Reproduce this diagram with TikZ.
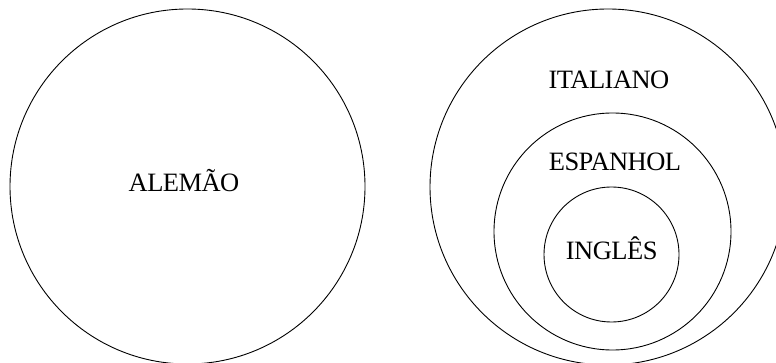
\documentclass[tikz,border=0pt]{standalone}
\usepackage{fontspec}
\setmainfont{Liberation Serif}
\begin{document}
\begin{tikzpicture}[x=1pt,y=-1pt,
  ring/.style={draw=black,line width=0.9pt,circle,inner sep=0pt},
  lbl/.style={font=\fontsize{26.5}{30}\selectfont,anchor=base,inner sep=0pt}]
\useasboundingbox (0,0) rectangle (776,363);
\clip (0,0) rectangle (776,363);
\fill[white] (0,0) rectangle (776,363);
\node[ring,minimum size=355pt] (alemao) at (187.5,186.5) {};
\node[ring,minimum size=356pt] (italiano) at (608,187) {};
\node[ring,minimum size=237pt] (espanhol) at (612.5,231.5) {};
\node[ring,minimum size=135pt] (ingles) at (611.5,254.5) {};
\node[lbl] (talemao) at (184,191.7) {\addfontfeatures{LetterSpace=-2}ALEMÃO};
\node[lbl] (titaliano) at (609,88.3) {\addfontfeatures{LetterSpace=-2}ITALIANO};
\node[lbl] (tespanhol) at (615,170.7) {\addfontfeatures{LetterSpace=-2}ESPANHOL};
\node[lbl] (tingles) at (611.7,260) {\addfontfeatures{LetterSpace=-2}INGLÊS};
\end{tikzpicture}
\end{document}
